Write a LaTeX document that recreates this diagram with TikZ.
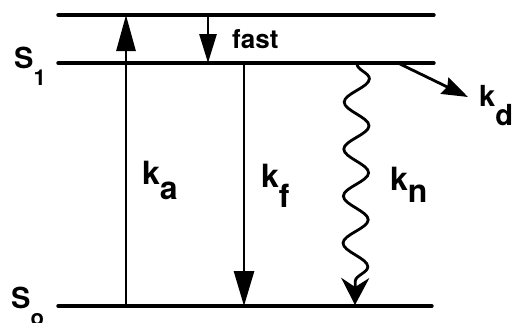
\documentclass[tikz,border=0pt]{standalone}
\usepackage{fontspec}
\setmainfont{TeX Gyre Heros}
\usetikzlibrary{arrows.meta, decorations.pathmorphing}
\tikzstyle{level} = [line width=3.4pt, line cap=round]
\tikzstyle{trans} = [line width=2.8pt]
\tikzstyle{lbl}   = [anchor=base west, inner sep=0pt, font=\fontsize{32}{32}\selectfont\bfseries]
\tikzstyle{state} = [anchor=base west, inner sep=0pt, font=\fontsize{29}{29}\selectfont\bfseries]

\begin{document}
\begin{tikzpicture}[x=1pt, y=-1pt,
    wavy/.style={trans, decorate,
                 decoration={snake, amplitude=12.5pt, segment length=47pt, post length=22pt}},
  ]
  \useasboundingbox (0,0) rectangle (519,322);

  % levels
  \coordinate (tl) at (58,15);  \coordinate (tr) at (434,15);
  \coordinate (s1l) at (58,63); \coordinate (s1r) at (434,63);
  \coordinate (s0l) at (58,306); \coordinate (s0r) at (432,306);
  \draw[level] (tl) -- (tr);
  \draw[level] (s1l) -- (s1r);
  \draw[level] (s0l) -- (s0r);

  \node[state] (s1) at (14,68) {S\raisebox{-17pt}{\fontsize{22}{22}\selectfont 1}};
  \node[state] (s0) at (11,308) {S\raisebox{-17pt}{\fontsize{22}{22}\selectfont o}};

  % transitions
  \coordinate (ka0) at (126,306); \coordinate (ka1) at (126,15);
  \coordinate (fa0) at (208,15);  \coordinate (fa1) at (208,63);
  \coordinate (kf0) at (244,63);  \coordinate (kf1) at (244,306);
  \coordinate (kn0) at (357,64);  \coordinate (kn1) at (355,305);
  \coordinate (kd0) at (400,64);  \coordinate (kd1) at (468,97);

  \draw[trans, -{Triangle[length=36pt,width=19pt]}] (ka0) -- (ka1);
  \draw[trans, -{Triangle[length=29pt,width=17pt]}] (fa0) -- (fa1);
  \draw[trans, -{Triangle[length=35pt,width=20pt]}] (kf0) -- (kf1);
  \draw[wavy, -{Stealth[length=27pt,width=28pt,inset=9pt]}] (kn0) -- (kn1);
  \draw[trans, -{Stealth[length=26pt,width=18pt,inset=3pt]}] (kd0) -- (kd1);

  \node[lbl, font=\fontsize{26}{26}\selectfont\bfseries] (fast) at (232,48) {fast};
  \node[lbl] (ka) at (142,184) {k\raisebox{-15pt}{a}};
  \node[lbl] (kf) at (261,187) {k\raisebox{-20pt}{f}};
  \node[lbl] (kn) at (390,190) {k\raisebox{-12pt}{n}};
  \node[lbl, font=\fontsize{29}{29}\selectfont\bfseries] (kd) at (479,106) {k\raisebox{-19pt}{d}};
\end{tikzpicture}
\end{document}
